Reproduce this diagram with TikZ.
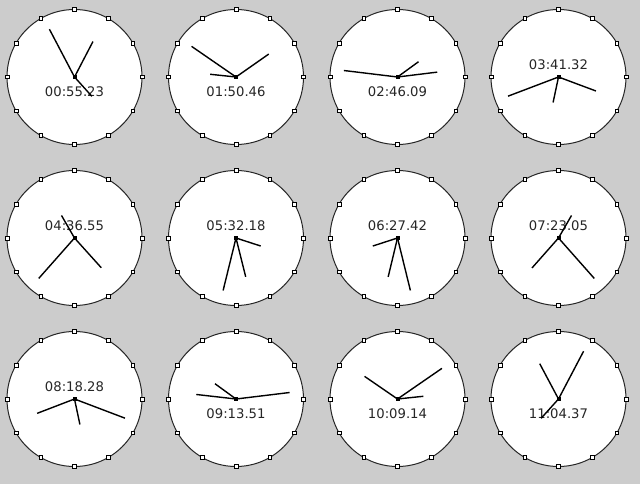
\documentclass[tikz,border=0pt]{standalone}
\usepackage{fontspec}
\setmainfont{DejaVu Sans}
\definecolor{bg}{RGB}{204,204,204}
\newcommand\myclock[8]{% name, cx, cy, H, M, S, label, label y offset
  \coordinate (#1) at (#2,#3);
  \draw[face] (#1) circle (67.5);
  \foreach \k in {0,...,11} \node[tickbox] at ([shift={(\k*30:67.5)}]#1) {};
  \node[lbl] (#1-label) at (#2,{#3+#8}) {#7};
  \pgfmathsetmacro\hangle{(#4+#5/60)*30-90}
  \pgfmathsetmacro\mangle{(#5+#6/60)*6-90}
  \pgfmathsetmacro\sangle{#6*6-90}
  \draw[hand] (#1) -- ++(\hangle:40);
  \draw[hand] (#1) -- ++(\mangle:54);
  \draw[hand] (#1) -- ++(\sangle:26);
  \node[hub] at (#1) {};
}
\begin{document}
\begin{tikzpicture}[x=1pt,y=-1pt,
  face/.style={draw=black!85, fill=white, line width=1pt},
  hand/.style={line width=1.4pt, black},
  tickbox/.style={rectangle, draw=black, fill=white, line width=0.6pt, minimum size=3.6pt, inner sep=0pt},
  hub/.style={rectangle, fill=black, minimum size=4pt, inner sep=0pt},
  lbl/.style={font=\fontsize{13.2}{15}\selectfont, text=black!85, inner sep=0pt}]
\fill[bg] (0,0) rectangle (640,484);
\useasboundingbox (0,0) rectangle (640,484);
\myclock{c1}{74.5}{77}{0}{55}{23}{00:55.23}{15}
\myclock{c2}{236}{77}{1}{50}{46}{01:50.46}{15}
\myclock{c3}{397.5}{77}{2}{46}{9}{02:46.09}{15}
\myclock{c4}{558.5}{77}{3}{41}{32}{03:41.32}{-12.5}
\myclock{c5}{74.5}{238}{4}{36}{55}{04:36.55}{-12.5}
\myclock{c6}{236}{238}{5}{32}{18}{05:32.18}{-12.5}
\myclock{c7}{397.5}{238}{6}{27}{42}{06:27.42}{-12.5}
\myclock{c8}{558.5}{238}{7}{23}{5}{07:23.05}{-12.5}
\myclock{c9}{74.5}{399}{8}{18}{28}{08:18.28}{-12.5}
\myclock{c10}{236}{399}{9}{13}{51}{09:13.51}{15}
\myclock{c11}{397.5}{399}{10}{9}{14}{10:09.14}{15}
\myclock{c12}{558.5}{399}{11}{4}{37}{11:04.37}{15}
\end{tikzpicture}
\end{document}
